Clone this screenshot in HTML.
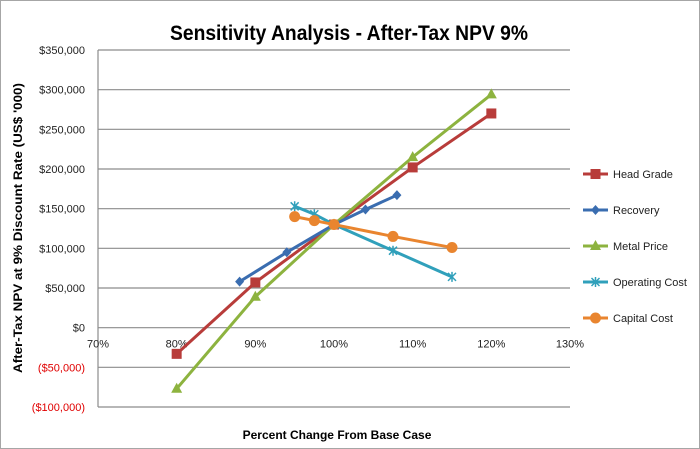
<!DOCTYPE html>
<html><head><meta charset="utf-8"><style>
body{margin:0;background:#fff}
svg{display:block;font-family:"Liberation Sans",sans-serif}
</style></head><body>
<svg id="chart" width="700" height="449" viewBox="0 0 700 449">
<rect x="0.5" y="0.5" width="699" height="448" fill="#fff" stroke="#a6a6a6"/>
<text x="349" y="40" text-anchor="middle" font-size="21" font-weight="bold" textLength="358" lengthAdjust="spacingAndGlyphs">Sensitivity Analysis - After-Tax NPV 9%</text>
<text transform="translate(22,228) rotate(-90)" text-anchor="middle" font-size="12" font-weight="bold" textLength="290" lengthAdjust="spacingAndGlyphs">After-Tax NPV at 9% Discount Rate (US$ '000)</text>
<text x="337" y="439" text-anchor="middle" font-size="12" font-weight="bold">Percent Change  From Base Case</text>
<g id="grid"></g><g id="series"></g><g id="legend"></g>
</svg>
<script>
const xTicks=[70,80,90,100,110,120,130];
const yTicks=[350000,300000,250000,200000,150000,100000,50000,0,-50000,-100000];
const seriesNames=["Head Grade","Recovery","Metal Price","Operating Cost","Capital Cost"];
const headGradeX=[80,90,100,110,120];
const headGradeY=[-33000,57000,130000,202000,270000];
const recoveryX=[88,94,100,104,108];
const recoveryY=[58000,95000,130000,149000,167000];
const metalPriceX=[80,90,100,110,120];
const metalPriceY=[-77000,39000,130000,215000,294000];
const opCostX=[95,97.5,100,107.5,115];
const opCostY=[153000,143000,130000,97000,64000];
const capCostX=[95,97.5,100,107.5,115];
const capCostY=[140000,135000,130000,115000,101000];

const NS="http://www.w3.org/2000/svg";
const X0=98,X1=570,Y0=50,Y1=407;
const xs=v=>X0+(v-70)/60*(X1-X0);
const ys=v=>Y0+(350000-v)/450000*(Y1-Y0);
function mk(t,a,p){const e=document.createElementNS(NS,t);for(const k in a)e.setAttribute(k,a[k]);p.appendChild(e);return e;}
const grid=document.getElementById('grid');
yTicks.forEach(v=>{
  const l=mk('line',{x1:X0,x2:X1,y1:ys(v),y2:ys(v),stroke:'#8c8c8c','stroke-width':1.2},grid);
  
  
  const s=Math.abs(v).toLocaleString('en-US');
  const t=mk('text',{x:85,y:ys(v)+4,'text-anchor':'end','font-size':11,fill:v<0?'#e00000':'#222'},grid);
  t.textContent=v<0?'($'+s+')':'$'+s;
  
  
});
const ax=mk('line',{x1:X0,x2:X0,y1:Y0,y2:Y1,stroke:'#8c8c8c','stroke-width':1.2},grid);


xTicks.forEach(v=>{
  const t=mk('text',{x:xs(v),y:ys(0)+20,'text-anchor':'middle','font-size':11,fill:'#222'},grid);
  t.textContent=v+'%';
  
  
});
const S=[
 {x:headGradeX,y:headGradeY,c:'#b83c3a',m:'square'},
 {x:recoveryX,y:recoveryY,c:'#3a6db0',m:'diamond'},
 {x:metalPriceX,y:metalPriceY,c:'#8db33f',m:'triangle'},
 {x:opCostX,y:opCostY,c:'#30a0bb',m:'star'},
 {x:capCostX,y:capCostY,c:'#e9852f',m:'circle'}];
const sg=document.getElementById('series'),lg=document.getElementById('legend');
function marker(m,cx,cy,c,p){
  let e;
  if(m==='square')e=mk('rect',{x:cx-5,y:cy-5,width:10,height:10,fill:c},p);
  else if(m==='diamond')e=mk('polygon',{points:`${cx},${cy-5} ${cx+4.5},${cy} ${cx},${cy+5} ${cx-4.5},${cy}`,fill:c},p);
  else if(m==='triangle')e=mk('polygon',{points:`${cx},${cy-6} ${cx+5.5},${cy+4} ${cx-5.5},${cy+4}`,fill:c},p);
  else if(m==='circle')e=mk('circle',{cx:cx,cy:cy,r:5.5,fill:c},p);
  else e=mk('path',{d:`M${cx-4},${cy-4}L${cx+4},${cy+4}M${cx+4},${cy-4}L${cx-4},${cy+4}M${cx},${cy-5}V${cy+5}`,stroke:c,'stroke-width':1.5,fill:'none'},p);
  return e;
}
[0,2,1,3,4].forEach(i=>{
  const s=S[i];
  const g=mk('g',{},sg);
  
  
  mk('polyline',{points:s.x.map((v,j)=>xs(v)+','+ys(s.y[j])).join(' '),fill:'none',stroke:s.c,'stroke-width':3},g);
  s.x.forEach((v,j)=>{
    const mkr=marker(s.m,xs(v),ys(s.y[j]),s.c,g);
    
    
  });
});
S.forEach((s,i)=>{
  const y=174+i*36;
  const g=mk('g',{},lg);
  
  
  mk('line',{x1:583,x2:608,y1:y,y2:y,stroke:s.c,'stroke-width':3},g);
  marker(s.m,595.5,y,s.c,g);
  const t=mk('text',{x:613,y:y+4,'font-size':11,fill:'#222'},g);
  t.textContent=seriesNames[i];
});
</script>
</body></html>
